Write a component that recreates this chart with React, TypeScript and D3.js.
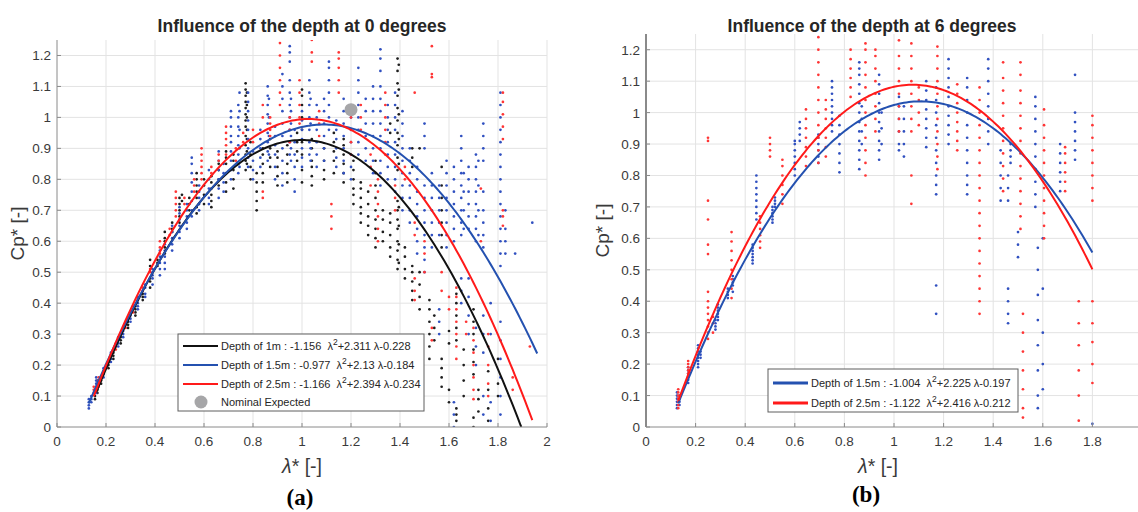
import React from 'react';
import * as d3 from 'd3';

type Col = [number, string];

// ---------- Tick values ----------
const xTickValues = [0, 0.2, 0.4, 0.6, 0.8, 1, 1.2, 1.4, 1.6, 1.8, 2];
const yTickValues = [0, 0.1, 0.2, 0.3, 0.4, 0.5, 0.6, 0.7, 0.8, 0.9, 1, 1.1, 1.2];

// ---------- Titles / labels ----------
const leftTitle = 'Influence of the depth at 0 degrees';
const rightTitle = 'Influence of the depth at 6 degrees';
const leftTag = '(a)';
const rightTag = '(b)';

// ---------- Fit coefficients (a λ² + b λ + c) ----------
const leftSeriesNames = ['Depth of 1m', 'Depth of 1.5m', 'Depth of 2.5m'];
const leftCoefA = [-1.156, -0.977, -1.166];
const leftCoefB = [2.311, 2.13, 2.394];
const leftCoefC = [-0.228, -0.184, -0.234];
const leftFitStart = [0.16, 0.13, 0.15];
const leftFitEnd = [1.895, 1.96, 1.94];

const rightSeriesNames = ['Depth of 1.5m', 'Depth of 2.5m'];
const rightCoefA = [-1.004, -1.122];
const rightCoefB = [2.225, 2.416];
const rightCoefC = [-0.197, -0.212];
const rightFitStart = [0.13, 0.13];
const rightFitEnd = [1.8, 1.8];

// Nominal expected point (left chart)
const nominalX = [1.2];
const nominalY = [1.025];

// ---------- Measured scatter (λ*, Cp* in hundredths) ----------
const left1m: Col[] = [
  [0.155, '9 10 11 12'], [0.165, '11 12 13 14 15'], [0.18, '14 15 16'], [0.21, '19 20 21'],
  [0.23, '22 23 24 25'], [0.26, '27 28 29'], [0.29, '32 33 34'], [0.32, '36 37 38 39'],
  [0.35, '41 42 43'], [0.38, '45 47 48 52 54'], [0.41, '52 53 54'], [0.44, '56 58 60 61 63'],
  [0.47, '63 64 66'], [0.5, '66 68 70 72 74'], [0.51, '75 73'], [0.54, '70 72 74'],
  [0.57, '69 71 74 76 78 80 82'], [0.6, '72 75 78 80'], [0.63, '71 73 75 77 79 81'],
  [0.66, '78 80 83 85'], [0.69, '76 79 82 85 87 89'], [0.72, '77 80 83 86 88'],
  [0.77, '83 86 88 91 94 97 99 101 103 105 107 109 111'], [0.775, '85 89 93 96 100 104 108'],
  [0.79, '80 84 88 92'],
  [0.815, '70 73 76 79 82'], [0.84, '79 82 85 88 90'], [0.87, '84 87 90 93'],
  [0.9, '78 81 84 87 89'], [0.94, '79 82 85 88 91'], [0.98, '86 89 92 95'],
  [1.0, '79 83 88 92 96 100 104 107 109'], [1.04, '78 81 84 86 90 93'], [1.09, '80 83 86 90'],
  [1.13, '82 86 89 92 95'], [1.17, '79 82 85 88 91 93'], [1.21, '72 75 77 80 83 86'],
  [1.24, '66 69 71 74 77 79'], [1.27, '62 65 68 72 76'], [1.3, '58 61 64 67 70 74 78 82 86'],
  [1.33, '60 63 67 70'], [1.36, '55 58 62 66 69 95 98'],
  [1.39, '51 54 57 60 64 67 70 73 83 87 91 95 99 103 107 111 115 119'],
  [1.395, '53 59 65 71 85 93 101 109 117'],
  [1.42, '48 51 55 58'], [1.45, '41 44 47 50 52 84 87 90'], [1.48, '38 42 46 50 90'],
  [1.52, '22 26 30 34 38 41'], [1.54, '28 32 36'], [1.57, '13 16 19 22 58 62 66 70 74 78 84'],
  [1.6, '8 12 27 31'], [1.63, '2 4 6 28 32 36 40 43'], [1.66, '10 15 20 25'],
  [1.7, '0 3 17 21 25 30 34 38'], [1.72, '5 9 12'], [1.76, '2 6 12 18'], [1.8, '10 14 22'],
];

const left15m: Col[] = [
  [0.13, '6 7 8 9'], [0.14, '8 9 10'], [0.16, '11 12 13 14 15 16'], [0.19, '16 17 18 19'],
  [0.22, '21 22 23 24'], [0.25, '26 27 28 29'], [0.27, '29 30 31 32'], [0.3, '34 35 36 37'],
  [0.33, '38 39 40 41 42'], [0.36, '42 43 45 46'], [0.39, '46 48 49 50 51'],
  [0.42, '49 51 53 55 57'], [0.44, '51 53 55 57 59'], [0.47, '57 59 61 63 65'],
  [0.5, '61 63 65 67 69 71'], [0.53, '64 66 68 70 72'], [0.55, '68 70 73 76 79 82 85 87'],
  [0.58, '70 72 74 76 78'], [0.62, '72 74 77 80 83'], [0.66, '74 77 80 83 86 89'],
  [0.68, '76 79 82 85'], [0.71, '80 83 86 89 92 94 97 100 102'],
  [0.74, '82 85 88 91 94 97 100 104'], [0.745, '84 90 96 102 108'],
  [0.78, '84 87 90 93 96 99 102 105 108'],
  [0.8, '80 83 86 89'], [0.83, '84 87 90 93 96'], [0.86, '86 89 92 95 98 101 104 107 110'],
  [0.865, '88 94 100 106'],
  [0.89, '80 84 88 91 94 97'], [0.92, '78 82 86 90 94 98 102 106 110 114'],
  [0.95, '88 92 96 100 104 108 112 118 121 123'], [0.955, '86 90 94 98 102 106'],
  [0.97, '76 80 84 88 92 96'],
  [1.0, '84 87 90 93 96 99 102'], [1.03, '88 92 96 100 104 108 112'], [1.035, '86 90 98 106'],
  [1.06, '84 88 92 96 100 104'], [1.09, '86 90 94 98 102 106'],
  [1.11, '96 100 104 108 112 116 118'], [1.14, '84 87 90 93 96 99'],
  [1.17, '82 86 90 94 98 102 106'], [1.2, '80 84 88 92 96 100'],
  [1.23, '88 92 96 100 104 108 112 116'], [1.26, '86 90 94 98 102 106'],
  [1.29, '82 86 90 94 98 102 106 110'], [1.32, '78 82 86 90 94 98 102 106 110 115 119 122'],
  [1.35, '80 84 88 92 96 100 104'], [1.38, '76 80 84 88 92 96 100 104 108'],
  [1.41, '70 74 78 82 86 90 94 98 102'], [1.44, '66 70 74 78 82 86 90'],
  [1.47, '56 60 64 68 72 76 80 84'], [1.5, '50 54 58 62 66 70 74 78 90 94 98'],
  [1.53, '58 62 66 70 74 78 82'], [1.56, '30 34 38 62 66 70 74 78'],
  [1.59, '58 62 66 70 74 78 82 86'], [1.62, '0 4 8 60 64 68 72 76 80 84'],
  [1.65, '40 44 48 62 66 70 74 78 82 86 90 94'], [1.66, '64 70 76 82'],
  [1.68, '30 36 42 48 64 68 72 76 80 84'],
  [1.71, '20 26 32 60 64 68 72 76 80 84 88'], [1.72, '62 70 78 86'],
  [1.74, '4 10 24 30 36 58 62 66 70 76 86 90 94 98'],
  [1.77, '2 8 30 40'], [1.81, '4 10 16 22 28 34 52 56 60 64 68 72 76 80 84 88 92 96 100 104 108'],
  [1.83, '56 60 64 70'], [1.87, '56'], [1.94, '66'],
];

const left25m: Col[] = [
  [0.15, '11 12 13'], [0.17, '13 14 15 16'], [0.2, '19 20'], [0.24, '25 26 27'],
  [0.28, '32 33'], [0.31, '37 38 39'], [0.35, '44 45'], [0.38, '50 51'], [0.42, '56 58 60'],
  [0.46, '62 64'], [0.485, '68 70 72 74 76'], [0.52, '72 74'], [0.56, '76 78 80'],
  [0.59, '80 82 84 86 88 90'], [0.63, '82 84'], [0.66, '86 88'], [0.69, '88 91 93 95 97'],
  [0.73, '86 90'], [0.76, '92 95'], [0.8, '92 96'], [0.84, '74 76 100 104'],
  [0.87, '94 96 98 100'], [0.91, '104 108 112 116 120 124'], [0.95, '92 96 100'],
  [0.99, '98 100 104 108 112'], [1.04, '118 121 125'], [1.07, '94 98 102'],
  [1.12, '64 68 72'], [1.15, '108 112 116 119 121'], [1.2, '88 92 96 100'],
  [1.24, '96 100 104'], [1.28, '78 84 88'], [1.31, '60 64 68 72 76 80'],
  [1.34, '88 92 96 100 104 108'], [1.38, '70 74 78'], [1.42, '80 84'],
  [1.46, '41 44 48 62 66 108'], [1.5, '50 56 60'], [1.53, '113 114 123 28 32'],
  [1.57, '44 50'], [1.6, '38 42'], [1.63, '22 26 30 34 38 42 45'], [1.67, '30 34'],
  [1.7, '9 12 16 20 24 28 32'], [1.73, '60 77'], [1.76, '10 14 20 26 30'],
  [1.82, '65 68 70 93 97 101 105 108'], [1.86, '12 16'], [1.93, '26'],
];

const right15m: Col[] = [
  [0.125, '6 7 8 9 10 11'], [0.135, '7 8 9 10'], [0.17, '14 15 16 17 18 19'],
  [0.21, '19 20 21 22 23 24 25 26'], [0.22, '22 23 24'], [0.28, '31 32 33 34'],
  [0.29, '34 35 36 37 38 39'], [0.33, '41 42 43 44'], [0.35, '43 45 46 47 48'],
  [0.43, '52 53 54 55 56 57 58'], [0.445, '66 68 70 72 74 76 78 80'],
  [0.51, '65 66 67 68 69 70'], [0.52, '70 71 72 73'], [0.6, '80 82 84 86 88 90 91'],
  [0.62, '91 93 95 97'], [0.695, '84 86 88 90 92 93'], [0.75, '94 96 98 100 102 104 106 108 110'],
  [0.78, '81 84 87 90 93 96 99'], [0.86, '82 85 88 91 94 97 100 103 106 109 112 114 116'],
  [0.87, '90 94 98 102'], [0.94, '85 88 91 94 97 100 103 106 109 112'], [0.95, '90 95 100'],
  [1.02, '88 90 94 98 102 105'], [1.04, '86 90 94 98 102'],
  [1.13, '89 92 95 98 101 104 107 110'], [1.17, '74 77 80 84 88 92 96 100 104 108 45 36'],
  [1.22, '90 93 96 99 102 105 108 111 114 117'], [1.295, '74 77 80 84 88 92 96 100 104 108 111'],
  [1.38, '90 94 98 102 106 110 114 117'], [1.43, '72 76 80 84 88'],
  [1.46, '33 36 40 44 72 76 80'], [1.47, '84 86 88 90'], [1.5, '54 58 62'],
  [1.57, '70 74 78 82 86 90 94 98 102 105'], [1.58, '57 50 42 34 26 18 10 6'],
  [1.6, '60 44 30 20 12'], [1.67, '75 78 81 84 87 90'], [1.73, '85 88 91 94 97 100 112'],
  [1.8, '1'],
];

const right25m: Col[] = [
  [0.13, '6 7 8 9 10 11 12'], [0.17, '17 18 19 20 21'],
  [0.25, '28 30 32 34 36 38 40 43 55 58 66 72 91 92'], [0.27, '30 33 35'],
  [0.345, '41 44 47 50 53 56 59 62'], [0.46, '57 59 61 63 65 67'], [0.5, '86 88 90 92'],
  [0.55, '71 74 77 80 83 85'], [0.645, '83 86 89 92 95 98 101'],
  [0.695, '84 88 92 96 100 104 108 112 116 120 124'], [0.725, '86 89 92 95 98 101 104'],
  [0.825, '105 108 111 114 117 120'], [0.885, '80 84 88 92 96 100 104 108 112 116 120 122'],
  [0.925, '94 98 102 106 110 114 118 120'], [1.02, '94 98 102 106 110 114 118 123'],
  [1.07, '94 98 102 106 110 114 118 122 80 71'], [1.1, '96 100 104 108'],
  [1.175, '82 86 90 94 98 102 106 110 114 118 121'], [1.255, '88 91 94 97 100 103 106 109'],
  [1.345, '36 40 44 48 52 56 60 64 68 72 76 80 84 88 92 96 100 104 108'],
  [1.44, '75 79 83 87 91 95 99 103 107 111 116'],
  [1.51, '63 67 71 75 79 83 87 91 95 99 103 107 112 116'], [1.52, '36 30 24 18 12 6 3'],
  [1.605, '60 64 68 72 76 80 84 88 92 96 101'], [1.69, '75 78 81 84 87 89'],
  [1.745, '2 10 18 26 33 40'], [1.8, '72 76 80 84 88 92 96 99 14 20 27 33 40'],
];

// ---------- helpers ----------
const toPoints = (cols: Col[]) =>
  cols.flatMap(([x, s]) => s.split(' ').map((v) => [x, +v / 100] as [number, number]));

const fmt = (v: number) => String(+v.toFixed(1));

const BLACK = '#111111';
const BLUE = '#2451b0';
const RED = '#ff1a1a';
const DOT_BLACK = '#1e1e1e';
const DOT_BLUE = '#3050c0';
const DOT_RED = '#ff3535';
const W = 1138;

type Fit = { a: number; b: number; c: number; x0: number; x1: number; color: string; width: number };
type Legend = { x: number; y: number; w: number; h: number; rows: number[]; lineW: number };

function Panel(props: {
  id: string;
  left: number;
  right: number;
  bottom: number;
  top: number;
  title: string;
  titleX: number;
  labelX: number;
  ylabelX: number;
  tag: string;
  tagX: number;
  tagY: number;
  scatter: { pts: [number, number][]; color: string }[];
  fits: Fit[];
  names: string[];
  legend: Legend;
  nominal?: boolean;
  axisW: number;
}) {
  const x = d3.scaleLinear().domain([0, 2]).range([props.left, props.right]);
  const y = d3.scaleLinear().domain([0, 1.25]).range([props.bottom, props.top]);
  const midY = (props.top + props.bottom) / 2;
  const L = props.legend;
  const visibleX = xTickValues.filter((v) => x(v) + 8 <= W);
  return (
    <g fontFamily="Liberation Sans, Arial, sans-serif">
      <defs>
        <clipPath id={props.id}>
          <rect x={props.left} y={props.top} width={props.right - props.left} height={props.bottom - props.top} />
        </clipPath>
      </defs>
      {/* grid */}
      {xTickValues.filter((v) => v > 0).map((v) => (
        <line key={'gx' + v} x1={x(v)} x2={x(v)} y1={props.top} y2={props.bottom} stroke="#e3e3e3" strokeWidth={1} />
      ))}
      {yTickValues.filter((v) => v > 0).map((v) => (
        <line key={'gy' + v} x1={props.left} x2={props.right} y1={y(v)} y2={y(v)} stroke="#e3e3e3" strokeWidth={1} />
      ))}
      {/* scatter */}
      <g clipPath={`url(#${props.id})`}>
        {props.scatter.map((s, si) =>
          s.pts.map((p, i) => <circle key={si + '-' + i} cx={x(p[0])} cy={y(p[1])} r={1.35} fill={s.color} />)
        )}
        {props.fits.map((f, i) => {
          const xs = d3.range(f.x0, f.x1, 0.01).concat([f.x1]);
          const gen = d3
            .line<number>()
            .x((v) => x(v))
            .y((v) => y(f.a * v * v + f.b * v + f.c));
          return <path key={'f' + i} d={gen(xs) || ''} fill="none" stroke={f.color} strokeWidth={f.width} />;
        })}
        {props.nominal && <circle cx={x(nominalX[0])} cy={y(nominalY[0])} r={6.5} fill="#a6a6a8" />}
      </g>
      {/* axes */}
      <line x1={props.left} x2={props.right} y1={props.bottom} y2={props.bottom} stroke="#8a8a8a" strokeWidth={1} />
      <line x1={props.left} x2={props.left} y1={props.top} y2={props.bottom} stroke="#8a8a8a" strokeWidth={props.axisW} />
      {visibleX.map((v) => (
        <g key={'tx' + v}>
          <line x1={x(v)} x2={x(v)} y1={props.bottom} y2={props.bottom - 4} stroke="#8a8a8a" />
          <text x={x(v)} y={props.bottom + 19} textAnchor="middle" fontSize={13.5} fill="#3a3a3a">
            {fmt(v)}
          </text>
        </g>
      ))}
      {yTickValues.map((v) => (
        <g key={'ty' + v}>
          <line x1={props.left} x2={props.left + 4} y1={y(v)} y2={y(v)} stroke="#8a8a8a" />
          <text x={props.left - 6} y={y(v) + 5} textAnchor="end" fontSize={13.5} fill="#3a3a3a">
            {fmt(v)}
          </text>
        </g>
      ))}
      {/* labels */}
      <text x={props.titleX} y={32} textAnchor="middle" fontSize={17.5} fontWeight="bold" fill="#262626">
        {props.title}
      </text>
      <text x={props.labelX} y={473} textAnchor="middle" fontSize={19.5} fill="#3a3a3a">
        <tspan fontStyle="italic">λ</tspan>
        <tspan>* [-]</tspan>
      </text>
      <text
        x={props.ylabelX}
        y={midY}
        textAnchor="middle"
        fontSize={19}
        fill="#3a3a3a"
        transform={`rotate(-90 ${props.ylabelX} ${midY})`}
      >
        Cp* [-]
      </text>
      <text x={props.tagX} y={props.tagY} textAnchor="middle" fontSize={23} fontWeight="bold" fontFamily="Liberation Serif, Times New Roman, serif" fill="#000">
        {props.tag}
      </text>
      {/* legend */}
      <rect x={L.x} y={L.y} width={L.w} height={L.h} fill="#fff" stroke="#5e5e5e" strokeWidth={1} />
      {props.fits.map((f, i) => (
        <g key={'lg' + i}>
          <line x1={L.x + 5} x2={L.x + 40} y1={L.rows[i]} y2={L.rows[i]} stroke={f.color} strokeWidth={L.lineW} />
          <text x={L.x + 43} y={L.rows[i] + 4} fontSize={11} fill="#262626" style={{ whiteSpace: 'pre' }}>
            {`${props.names[i]} : ${f.a.toFixed(3)}  λ`}
            <tspan dy={-5} fontSize={8.5}>2</tspan>
            <tspan dy={5}>{`+${+f.b.toFixed(3)} λ-${Math.abs(f.c).toFixed(3)}`}</tspan>
          </text>
        </g>
      ))}
      {props.nominal && (
        <g>
          <circle cx={L.x + 23} cy={L.rows[3]} r={6.5} fill="#a6a6a8" />
          <text x={L.x + 43} y={L.rows[3] + 4} fontSize={11} fill="#262626">
            Nominal Expected
          </text>
        </g>
      )}
    </g>
  );
}

export default function App() {
  const leftColors = [BLACK, BLUE, RED];
  const leftFits: Fit[] = leftCoefA.map((a, i) => ({
    a,
    b: leftCoefB[i],
    c: leftCoefC[i],
    x0: leftFitStart[i],
    x1: leftFitEnd[i],
    color: leftColors[i],
    width: 2,
  }));
  const rightColors = [BLUE, RED];
  const rightFits: Fit[] = rightCoefA.map((a, i) => ({
    a,
    b: rightCoefB[i],
    c: rightCoefC[i],
    x0: rightFitStart[i],
    x1: rightFitEnd[i],
    color: rightColors[i],
    width: 2,
  }));
  return (
    <svg width={W} height={512} style={{ position: 'absolute', left: 0, top: 0, background: '#fff' }}>
      <rect x={0} y={0} width={W} height={512} fill="#fff" />
      <Panel
        id="clipL"
        left={57}
        right={547}
        bottom={427}
        top={40}
        title={leftTitle}
        titleX={302}
        labelX={302}
        ylabelX={24}
        tag={leftTag}
        tagX={300}
        tagY={505}
        scatter={[
          { pts: toPoints(left1m), color: DOT_BLACK },
          { pts: toPoints(left15m), color: DOT_BLUE },
          { pts: toPoints(left25m), color: DOT_RED },
        ]}
        fits={leftFits}
        names={leftSeriesNames}
        legend={{ x: 178, y: 334, w: 246, h: 77, rows: [346, 365, 384, 402], lineW: 2 }}
        nominal
        axisW={1}
      />
      <Panel
        id="clipR"
        left={646}
        right={1142}
        bottom={427}
        top={34}
        title={rightTitle}
        titleX={872}
        labelX={878}
        ylabelX={609}
        tag={rightTag}
        tagX={866}
        tagY={502}
        scatter={[
          { pts: toPoints(right15m), color: DOT_BLUE },
          { pts: toPoints(right25m), color: DOT_RED },
        ]}
        fits={rightFits}
        names={rightSeriesNames}
        legend={{ x: 768, y: 369, w: 250, h: 43, rows: [383, 403], lineW: 3 }}
        axisW={2}
      />
    </svg>
  );
}
